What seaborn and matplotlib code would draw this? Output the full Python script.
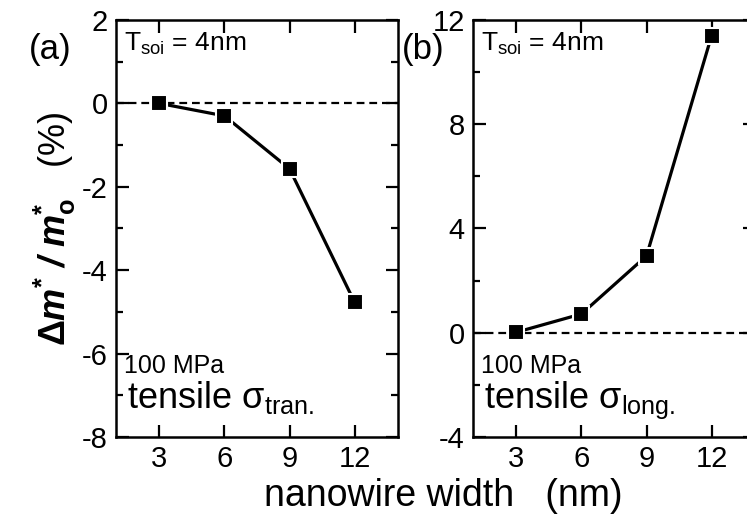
import pandas as pd
import matplotlib.pyplot as plt
import seaborn as sns
from matplotlib.ticker import MultipleLocator

# data
width_nm = [3, 6, 9, 12]
dm_tran = [0.0, -0.3, -1.57, -4.77]
dm_long = [0.02, 0.72, 2.95, 11.4]

sns.set_style("ticks")
plt.rcParams['font.family'] = ['Liberation Sans', 'DejaVu Sans']
plt.rcParams['axes.unicode_minus'] = False
plt.rcParams['text.color'] = 'black'
plt.rcParams['axes.edgecolor'] = 'black'
plt.rcParams['xtick.color'] = 'black'
plt.rcParams['ytick.color'] = 'black'
plt.rcParams['mathtext.fontset'] = 'custom'
plt.rcParams['mathtext.rm'] = 'Liberation Sans'
plt.rcParams['mathtext.it'] = 'Liberation Sans:italic'
plt.rcParams['mathtext.bf'] = 'Liberation Sans:bold'
plt.rcParams['mathtext.bfit'] = 'Liberation Sans:italic:bold'

fig = plt.figure(figsize=(7.47, 5.15), dpi=100)
ax_a = fig.add_axes([0.1553, 0.1515, 0.3775, 0.8097])
ax_b = fig.add_axes([0.6332, 0.1515, 0.3775, 0.8097])

panels = [
    (ax_a, dm_tran, (-8, 2), 2, 1, 'tensile σ$_{\\mathrm{tran.}}$'),
    (ax_b, dm_long, (-4, 12), 4, 2, 'tensile σ$_{\\mathrm{long.}}$'),
]

for ax, vals, ylim, major, minor, stress in panels:
    df = pd.DataFrame({'w': width_nm, 'dm': vals})
    ax.axhline(0, color='k', ls='--', lw=1.6, dashes=(3.5, 2.2), zorder=1)
    sns.lineplot(data=df, x='w', y='dm', ax=ax, color='k', lw=2.3,
                 marker='s', markersize=12, markeredgecolor='white',
                 markeredgewidth=1.5, zorder=3)
    ax.set_xlim(1, 14)
    ax.set_ylim(*ylim)
    ax.xaxis.set_major_locator(MultipleLocator(3))
    ax.yaxis.set_major_locator(MultipleLocator(major))
    ax.yaxis.set_minor_locator(MultipleLocator(minor))
    ax.tick_params(which='both', direction='in', top=True, right=True,
                   width=1.6, labelsize=21, pad=6)
    ax.tick_params(which='major', length=9)
    ax.tick_params(which='minor', length=5)
    for s in ax.spines.values():
        s.set_linewidth(1.8)
    ax.set_xlabel('')
    ax.set_ylabel('')
    ax.text(0.03, 0.975, r'T$_{\mathrm{soi}}$ = 4nm', transform=ax.transAxes,
            ha='left', va='top', fontsize=19)
    ax.text(0.03, 0.20, '100 MPa', transform=ax.transAxes,
            ha='left', va='top', fontsize=18)
    ax.text(0.04, 0.07, stress, transform=ax.transAxes,
            ha='left', va='baseline', fontsize=26)

fig.text(0.067, 0.903, '(a)', ha='center', va='center', fontsize=25)
fig.text(0.566, 0.903, '(b)', ha='center', va='center', fontsize=25)
fig.text(0.074, 0.555,
         r'$\mathbf{\Delta}\mathbfit{m}^{\mathbf{*}}\mathbfit{\ /\ m}_{\mathbf{o}}^{\mathbf{*}}$   (%)',
         rotation=90, ha='center', va='center', fontsize=26)
fig.text(0.593, 0.017, 'nanowire width   (nm)', ha='center', va='baseline',
         fontsize=27)

fig.savefig('out.png', dpi=100)
